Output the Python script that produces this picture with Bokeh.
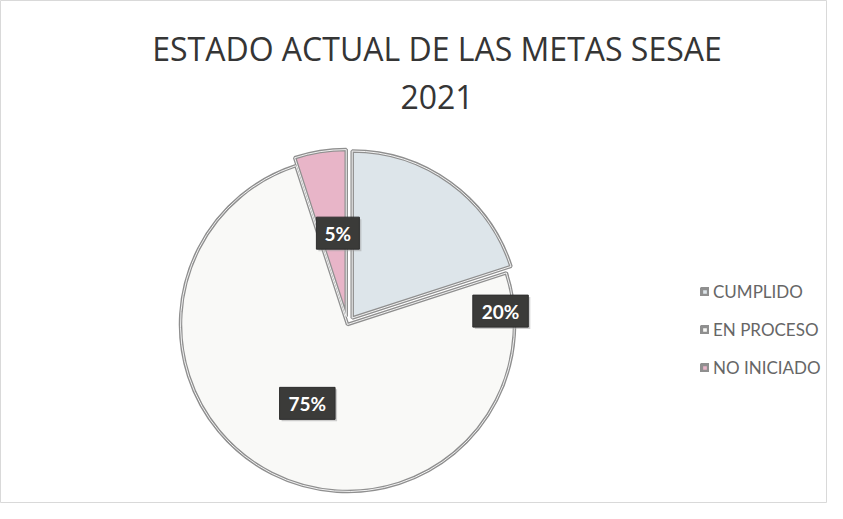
import numpy as np
from bokeh.plotting import figure
from bokeh.models import ColumnDataSource, Range1d, Legend, LegendItem
from bokeh.core.properties import value
from bokeh.embed import file_html
from bokeh.resources import INLINE

# ---- data ----
title_lines = ["ESTADO ACTUAL DE LAS METAS SESAE", "2021"]
categories = ["CUMPLIDO", "EN PROCESO", "NO INICIADO"]
values = [20, 75, 5]

# ---- style ----
colors = ["#dde5ea", "#f9f9f7", "#e8b5c8"]
explode = [8, 0, 8]
label_dist = [0.92, 0.53, 0.55]          # fraction of radius
label_angle_shift = [-49.0, 0.0, -3.0]    # degrees, manual placement like the original

W, H = 827, 503
p = figure(width=W, height=H, x_range=Range1d(0, W), y_range=Range1d(0, H),
           output_backend="svg", toolbar_location=None, min_border=0)
p.axis.visible = False
p.grid.visible = False
p.outline_line_color = "#d9d9d9"
p.background_fill_color = "white"
p.border_fill_color = "white"

def sy(y):  # picture y (from top) -> data y
    return H - y

cx, cy = 347, sy(324)
R = 167

vals = np.array(values, dtype=float)
fr = vals / vals.sum()
cum = np.concatenate([[0.0], np.cumsum(fr)])
start = np.pi / 2 - cum[:-1] * 2 * np.pi
end = np.pi / 2 - cum[1:] * 2 * np.pi
mid = (start + end) / 2
ex = np.array(explode, dtype=float)
xs = cx + ex * np.cos(mid)
ys = cy + ex * np.sin(mid)

src = ColumnDataSource(dict(x=xs, y=ys, start=start, end=end, color=colors, cat=categories))
w = p.wedge(x="x", y="y", radius=R, start_angle="start", end_angle="end", direction="clock",
            fill_color="color", line_color="#8f8f8f", line_width=3.5, source=src)
p.wedge(x="x", y="y", radius=R, start_angle="start", end_angle="end", direction="clock",
        fill_color=None, line_color="#f2f2f2", line_width=1.0, source=src)

# ---- data labels ----
la = mid + np.radians(label_angle_shift)
lx = cx + np.array(label_dist) * R * np.cos(la)
ly = cy + np.array(label_dist) * R * np.sin(la)
texts = [f"{int(v)}%" for v in values]
bw = [18 + 12.5 * len(t) for t in texts]
lsrc = ColumnDataSource(dict(x=lx, y=ly, text=texts, w=bw))
sh = ColumnDataSource(dict(x=lx + 2, y=ly - 2, w=bw))
p.rect(x="x", y="y", width="w", height=32, source=sh, fill_color="#a0a0a0",
       fill_alpha=0.5, line_color=None)
p.rect(x="x", y="y", width="w", height=32, source=lsrc, fill_color="#3b3b39",
       line_color="#2e2e2e")
p.text(x="x", y="y", text="text", source=lsrc, text_color="white",
       text_font=value("Lato"), text_font_style="bold", text_font_size="19px",
       text_align="center", text_baseline="middle")

# ---- title ----
tsrc = ColumnDataSource(dict(x=[436.5, 436.5], y=[sy(48), sy(96)], text=title_lines))
p.text(x="x", y="y", text="text", source=tsrc, text_color="#353535",
       text_font=value("Open Sans"), text_font_size="32px",
       text_align="center", text_baseline="alphabetic")

# ---- legend ----
items = [LegendItem(label=c, renderers=[w], index=i) for i, c in enumerate(categories)]
legend = Legend(items=items, location=(700, 125), orientation="vertical",
                label_text_font="Lato", label_text_font_size="17px",
                label_text_color="#666666", glyph_width=9, glyph_height=9,
                label_height=22, spacing=16, padding=0, margin=0, label_standoff=4,
                background_fill_alpha=0, border_line_color=None)
p.add_layout(legend)

open("out.html", "w").write(file_html(p, INLINE))
